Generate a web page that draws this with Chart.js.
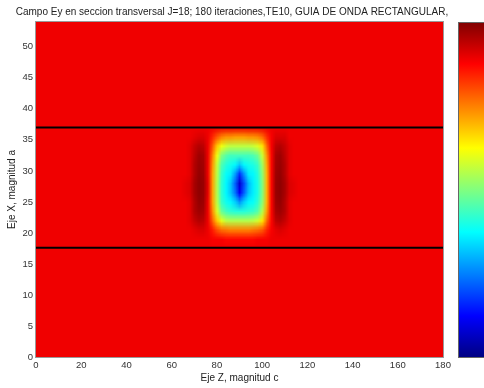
<!DOCTYPE html>
<html><head><meta charset="utf-8">
<script src="https://cdn.jsdelivr.net/npm/chart.js@4.4.1/dist/chart.umd.min.js"></script>
<style>html,body{margin:0;padding:0;background:#fff;overflow:hidden}</style>
</head><body>
<canvas id="c" width="484" height="388"></canvas>
<script>
const titleText = 'Campo Ey en seccion transversal J=18; 180 iteraciones,TE10, GUIA DE ONDA RECTANGULAR,';
const xTitle = 'Eje Z, magnitud c';
const yTitle = 'Eje X, magnitud a';
const xTicks = [0, 20, 40, 60, 80, 100, 120, 140, 160, 180];
const yTicks = [0, 5, 10, 15, 20, 25, 30, 35, 40, 45, 50];
const xRange = [0, 180];
const yRange = [0, 54];
const guideLevels = [17.6, 37];
const backgroundLevel = 0.89;
// field sample positions (Eje Z columns, Eje X rows)
const fieldZ = [64,66,68,70,72,74,76,78,80,82,84,86,88,90,92,94,96,98,100,102,104,106,108,110,112,114,116];
const fieldX = [17.5,19,20.5,22,23.5,25,26.5,28,29.5,31,32.5,34,35.5,37];
// colormap index (0 = dark blue ... 1 = dark red), one row per fieldX value
const fieldRows = [
 [.89,.89,.89,.89,.89,.89,.89,.89,.89,.89,.89,.89,.89,.89,.89,.89,.89,.89,.89,.89,.89,.89,.89,.89,.89,.89,.89],
 [.89,.89,.89,.89,.89,.89,.89,.88,.88,.88,.87,.87,.87,.87,.87,.87,.87,.88,.88,.88,.89,.89,.89,.89,.89,.89,.89],
 [.89,.89,.89,.90,.91,.91,.89,.85,.80,.77,.76,.75,.75,.75,.75,.75,.76,.77,.79,.84,.88,.90,.91,.90,.89,.89,.89],
 [.89,.89,.90,.93,.95,.94,.89,.78,.68,.60,.56,.55,.55,.55,.55,.55,.56,.58,.65,.77,.87,.94,.95,.93,.90,.89,.89],
 [.89,.89,.90,.95,.97,.96,.89,.74,.59,.48,.44,.42,.41,.41,.41,.42,.43,.46,.55,.72,.87,.96,.97,.95,.90,.89,.89],
 [.89,.89,.90,.95,.98,.97,.89,.72,.56,.43,.39,.37,.33,.27,.33,.37,.38,.42,.51,.70,.87,.97,.98,.95,.90,.89,.89],
 [.89,.90,.91,.96,.985,.975,.90,.72,.55,.42,.37,.32,.24,.12,.22,.32,.36,.40,.50,.70,.87,.975,.985,.96,.91,.90,.89],
 [.89,.90,.91,.96,.985,.975,.90,.72,.55,.42,.37,.32,.22,.08,.20,.31,.36,.40,.50,.70,.87,.975,.985,.96,.91,.90,.89],
 [.89,.89,.90,.95,.98,.97,.89,.72,.56,.43,.38,.36,.28,.17,.27,.36,.37,.41,.51,.70,.87,.97,.98,.95,.90,.89,.89],
 [.89,.89,.90,.95,.975,.965,.89,.73,.57,.45,.41,.39,.37,.32,.37,.39,.40,.43,.53,.71,.87,.965,.975,.95,.90,.89,.89],
 [.89,.89,.90,.94,.97,.96,.89,.75,.61,.50,.46,.44,.44,.44,.44,.44,.45,.48,.57,.73,.87,.96,.97,.94,.90,.89,.89],
 [.89,.89,.90,.93,.95,.94,.89,.79,.68,.61,.58,.56,.56,.56,.56,.56,.57,.59,.65,.77,.88,.94,.95,.93,.90,.89,.89],
 [.89,.89,.89,.90,.91,.91,.89,.84,.79,.75,.73,.73,.72,.72,.72,.73,.73,.74,.77,.83,.88,.91,.91,.91,.89,.89,.89],
 [.89,.89,.89,.89,.89,.89,.89,.89,.89,.89,.89,.89,.89,.89,.89,.89,.89,.89,.89,.89,.89,.89,.89,.89,.89,.89,.89]
];

function clamp01(t){ return Math.max(0, Math.min(1, t)); }
function jet(v){
  const r = clamp01(Math.min(4*v - 1.5, -4*v + 4.5));
  const g = clamp01(Math.min(4*v - 0.5, -4*v + 3.5));
  const b = clamp01(Math.min(4*v + 0.5, -4*v + 2.5));
  return [Math.round(r*255), Math.round(g*255), Math.round(b*255)];
}
function jetCss(v){ const c = jet(v); return 'rgb(' + c.join(',') + ')'; }

const FONT = '"Liberation Sans", Arial, Helvetica, sans-serif';

const heatmapPlugin = {
  id: 'heatmap',
  beforeDatasetsDraw(chart){
    const {ctx, chartArea: a, scales: {x, y}} = chart;
    ctx.save();
    ctx.beginPath(); ctx.rect(a.left, a.top, a.right - a.left, a.bottom - a.top); ctx.clip();
    ctx.fillStyle = jetCss(backgroundLevel);
    ctx.fillRect(a.left, a.top, a.right - a.left, a.bottom - a.top);
    const nc = fieldZ.length, nr = fieldX.length;
    const off = document.createElement('canvas');
    off.width = nc; off.height = nr;
    const octx = off.getContext('2d');
    const img = octx.createImageData(nc, nr);
    for (let r = 0; r < nr; r++) {
      for (let c = 0; c < nc; c++) {
        const col = jet(fieldRows[r][c]);
        const i = ((nr - 1 - r) * nc + c) * 4;
        img.data[i] = col[0]; img.data[i+1] = col[1]; img.data[i+2] = col[2]; img.data[i+3] = 255;
      }
    }
    octx.putImageData(img, 0, 0);
    const dz = fieldZ[1] - fieldZ[0], dx = fieldX[1] - fieldX[0];
    const left = x.getPixelForValue(fieldZ[0] - dz/2);
    const right = x.getPixelForValue(fieldZ[nc-1] + dz/2);
    const top = y.getPixelForValue(fieldX[nr-1] + dx/2);
    const bottom = y.getPixelForValue(fieldX[0] - dx/2);
    ctx.imageSmoothingEnabled = true;
    ctx.drawImage(off, left, top, right - left, bottom - top);
    ctx.restore();
  },
  afterDraw(chart){
    const {ctx, chartArea: a} = chart;
    ctx.save();
    ctx.strokeStyle = '#9a9a9a'; ctx.lineWidth = 1;
    ctx.strokeRect(a.left - 0.5, a.top - 0.5, a.right - a.left + 1, a.bottom - a.top + 1);
    // colorbar
    const cbL = a.right + 15, cbR = chart.width, cbT = a.top, cbB = a.bottom + 1;
    const g = ctx.createLinearGradient(0, cbB, 0, cbT);
    for (let k = 0; k <= 64; k++) g.addColorStop(k/64, jetCss(k/64));
    ctx.fillStyle = g;
    ctx.fillRect(cbL, cbT, cbR - cbL, cbB - cbT);
    ctx.strokeStyle = '#666';
    ctx.strokeRect(cbL + 0.5, cbT + 0.5, cbR - cbL, cbB - cbT - 1);
    ctx.restore();
  }
};

new Chart(document.getElementById('c'), {
  type: 'scatter',
  data: {
    datasets: guideLevels.map(lv => ({
      data: [{x: xRange[0], y: lv}, {x: xRange[1], y: lv}],
      showLine: true, borderColor: '#000', borderWidth: 2, pointRadius: 0, fill: false
    }))
  },
  options: {
    responsive: false, animation: false, devicePixelRatio: 1,
    layout: {padding: {left: 0, right: 20, top: 0, bottom: 0}},
    plugins: {
      legend: {display: false}, tooltip: {enabled: false},
      title: {display: true, text: titleText, color: '#222',
        font: {family: FONT, size: 10, weight: 'normal'}, padding: {top: 6, bottom: 4}}
    },
    scales: {
      x: {type: 'linear', min: xRange[0], max: xRange[1],
        afterBuildTicks: s => { s.ticks = xTicks.map(v => ({value: v})); },
        afterFit: s => { s.height = 31; },
        grid: {display: false, drawTicks: false, tickLength: 0}, border: {display: false},
        ticks: {color: '#333', font: {family: FONT, size: 9.5}, padding: 3, maxRotation: 0},
        title: {display: true, text: xTitle, color: '#222', font: {family: FONT, size: 10}, padding: {top: 0, bottom: 4}}
      },
      y: {type: 'linear', min: yRange[0], max: yRange[1],
        afterBuildTicks: s => { s.ticks = yTicks.map(v => ({value: v})); },
        afterFit: s => { s.width = 36; },
        grid: {display: false, drawTicks: false, tickLength: 0}, border: {display: false},
        ticks: {color: '#333', font: {family: FONT, size: 9.5}, padding: 3},
        title: {display: true, text: yTitle, color: '#222', font: {family: FONT, size: 10}, padding: {top: 6, bottom: 0}}
      },
      y2: {type: 'linear', position: 'right', min: 0, max: 1, display: true,
        afterFit: s => { s.width = 21; },
        grid: {display: false, drawTicks: false, tickLength: 0}, border: {display: false}, ticks: {display: false}
      }
    }
  },
  plugins: [heatmapPlugin]
});
</script>
</body></html>
